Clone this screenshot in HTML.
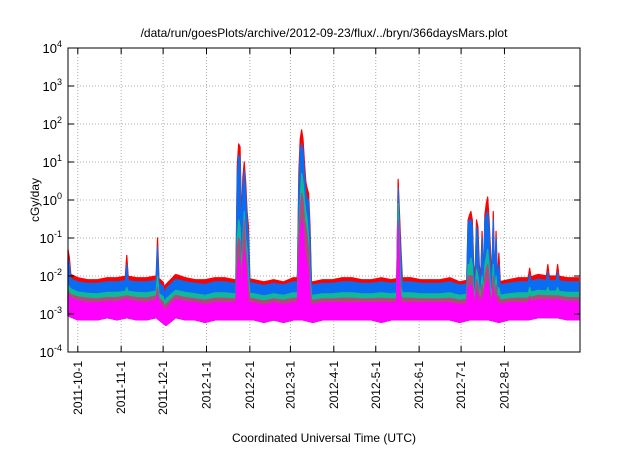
<!DOCTYPE html>
<html><head><meta charset="utf-8"><style>
body{margin:0;background:#fff;width:640px;height:448px;overflow:hidden}
svg{font-family:"Liberation Sans",Arial,sans-serif}
</style></head><body>
<svg id="chart" width="640" height="448">
<text x="324" y="37" font-size="12" text-anchor="middle">/data/run/goesPlots/archive/2012-09-23/flux/../bryn/366daysMars.plot</text>
<text transform="translate(39,200) rotate(-90)" font-size="12" text-anchor="middle">cGy/day</text>
<text x="324" y="442" font-size="12" text-anchor="middle">Coordinated Universal Time (UTC)</text>
<g id="grid"></g><g id="series"></g><g id="axes"></g>
</svg>
<script>
// Weekly baselines (cGy/day), starting 2011-09-24
const redBase=[.012,.009,.008,.008,.009,.009,.01,.009,.009,.01,.006,.011,.009,.008,.008,.009,.009,.008,.009,.008,.007,.008,.007,.009,.009,.007,.008,.008,.009,.009,.008,.008,.009,.008,.009,.009,.008,.008,.008,.009,.007,.008,.009,.008,.007,.008,.009,.009,.011,.01,.01,.009,.009];
const blueBase=[.009,.007,.0064,.0064,.007,.007,.0076,.007,.007,.0076,.0046,.0082,.007,.0064,.006,.007,.007,.0064,.007,.0064,.0056,.0064,.0058,.007,.007,.0058,.0064,.0064,.007,.007,.0064,.0064,.007,.0064,.007,.007,.0064,.0064,.0064,.007,.0058,.0064,.007,.0064,.0058,.0064,.007,.007,.0082,.0076,.0076,.007,.007];
const tealBase=[.005,.0038,.0035,.0034,.0037,.0037,.004,.0037,.0036,.004,.0025,.0042,.0037,.0034,.0031,.0036,.0036,.0034,.0036,.0034,.003,.0034,.0031,.0036,.0036,.0031,.0034,.0034,.0036,.0036,.0034,.0034,.0036,.0034,.0036,.0036,.0034,.0034,.0034,.0036,.0031,.0034,.0036,.0034,.0031,.0034,.0036,.0036,.0042,.004,.004,.0037,.0037];
const mauveBase=[.0035,.0028,.0026,.0025,.0027,.0027,.003,.0027,.0026,.003,.0018,.0031,.0027,.0025,.0023,.0026,.0026,.0025,.0026,.0025,.0022,.0025,.0023,.0026,.0026,.0023,.0025,.0025,.0026,.0026,.0025,.0025,.0026,.0025,.0026,.0026,.0025,.0025,.0025,.0026,.0023,.0025,.0026,.0025,.0023,.0025,.0026,.0026,.0031,.003,.003,.0027,.0027];
const magTopBase=[.0028,.0022,.002,.002,.0021,.0021,.0024,.0021,.002,.0023,.0014,.0024,.0021,.002,.0018,.002,.002,.002,.002,.002,.0017,.002,.0018,.002,.002,.0018,.002,.002,.002,.002,.002,.002,.002,.002,.002,.002,.002,.002,.002,.002,.0018,.002,.002,.002,.0018,.002,.002,.002,.0024,.0023,.0023,.0021,.0021];
const magLowBase=[.0009,.0007,.0007,.0007,.0008,.0007,.0008,.0007,.0007,.0008,.0005,.0008,.0007,.0007,.0006,.0007,.0007,.0007,.0007,.0007,.0006,.0007,.0006,.0007,.0007,.0006,.0007,.0007,.0007,.0007,.0007,.0007,.0006,.0007,.0007,.0007,.0007,.0007,.0007,.0007,.0006,.0007,.0007,.0007,.0006,.0007,.0007,.0007,.0008,.0008,.0008,.0007,.0007];
// Event days and values: red, blue, teal, mauve, magenta top
const spikeDays=[0,1,42,64,69,121,122,123,124,125,126,127,128,129,165,166,167,168,169,170,171,172,173,236,237,238,286,287,288,289,290,292,293,294,296,298,299,300,301,302,304,306,308,330,343,350];
const spikeRed=[.05,.03,.035,.1,.005,8,30,25,.3,4,10,3,.5,.2,5,40,70,40,10,3,2,1.5,.2,3.5,.4,.05,.3,.4,.5,.3,.02,.3,.2,.02,.15,.4,.8,1.2,.3,.05,.5,.15,.04,.016,.02,.02];
const spikeBlue=[.03,.02,.02,.06,.003,4,15,12,.1,2,6,1.5,.3,.1,2,20,30,20,5,1.5,1,1,.1,2,.2,.03,.25,.3,.3,.2,.01,.2,.1,.01,.1,.3,.4,.5,.2,.02,.3,.1,.02,.011,.013,.013];
const spikeTeal=[.006,.005,.005,.01,.002,.1,.3,.2,.01,.1,.5,.1,.05,.01,.2,1,5,3,1,.5,.3,.1,.01,.8,.05,.005,.02,.02,.03,.02,.004,.015,.01,.004,.01,.02,.03,.05,.02,.005,.02,.01,.005,.005,.005,.005];
const spikeMauve=[.004,.0035,.003,.005,.0015,.05,.1,.08,.005,.05,.3,.05,.02,.005,.1,.5,1.5,1,.3,.2,.1,.05,.005,.3,.02,.003,.01,.01,.01,.01,.003,.008,.006,.003,.006,.01,.015,.02,.01,.003,.01,.006,.003,.003,.003,.003];
const spikeMag=[.003,.003,.0025,.003,.001,.01,.03,.02,.002,.02,.05,.02,.006,.002,.02,.1,.3,.2,.05,.03,.02,.01,.002,.2,.005,.002,.005,.005,.006,.005,.002,.004,.003,.002,.003,.005,.006,.008,.005,.002,.005,.003,.002,.0025,.0025,.0025];
const xTickLabels=["2011-10-1","2011-11-1","2011-12-1","2012-1-1","2012-2-1","2012-3-1","2012-4-1","2012-5-1","2012-6-1","2012-7-1","2012-8-1"];
const xTickDays=[7,38,68,99,130,159,190,220,251,281,312];
const yTickExps=[-4,-3,-2,-1,0,1,2,3,4];

const L=68,R=580,T=48,B=352,NDAYS=366;
const NS='http://www.w3.org/2000/svg';
function xs(d){return L+d*(R-L)/NDAYS;}
function ys(v){return B-(Math.log10(v)+4)*(B-T)/8;}
function mk(tag,attrs,parent){const e=document.createElementNS(NS,tag);for(const k in attrs)e.setAttribute(k,attrs[k]);parent.appendChild(e);return e;}
const grid=document.getElementById('grid'),axes=document.getElementById('axes'),ser=document.getElementById('series');

yTickExps.forEach(p=>{
  const y=ys(Math.pow(10,p));
  if(p>-4&&p<4){const g=mk('line',{x1:L,x2:R,y1:y,y2:y,stroke:'#aaa','stroke-dasharray':'1,2','stroke-width':1},grid);
  
  }
  const t1=mk('line',{x1:L,x2:L+6,y1:y,y2:y,stroke:'#000'},axes);
  
  
  const t2=mk('line',{x1:R-6,x2:R,y1:y,y2:y,stroke:'#000'},axes);
  
  
  const tx=mk('text',{x:62,y:y+5,'font-size':13,'text-anchor':'end'},axes);
  
  
  tx.innerHTML='10<tspan dy="-6" font-size="9">'+p+'</tspan>';
});
xTickDays.forEach((d,i)=>{
  const x=xs(d);
  const g=mk('line',{x1:x,x2:x,y1:T,y2:B,stroke:'#aaa','stroke-dasharray':'1,2'},grid);
  
  
  const t1=mk('line',{x1:x,x2:x,y1:B-6,y2:B,stroke:'#000'},axes);
  
  
  const t2=mk('line',{x1:x,x2:x,y1:T,y2:T+6,stroke:'#000'},axes);
  
  
  const tx=mk('text',{transform:'translate('+(x+4)+',361) rotate(-90)','font-size':12,'text-anchor':'end'},axes);
  
  
  tx.textContent=xTickLabels[i];
});
const fr=mk('rect',{x:L,y:T,width:R-L,height:B-T,fill:'none',stroke:'#000','stroke-width':1},axes);



function base(arr,d){const w=d/7,i=Math.min(Math.floor(w),arr.length-2),f=w-i;return Math.exp(Math.log(arr[i])*(1-f)+Math.log(arr[i+1])*f);}
function val(baseArr,spArr,d){const k=spikeDays.indexOf(d);return k>=0?spArr[k]:base(baseArr,d);}
function area(baseArr,spArr,color,name){
  let top=[],bot=[];
  for(let d=0;d<NDAYS;d++){top.push(xs(d)+','+ys(val(baseArr,spArr,d)));bot.push(xs(d)+','+ys(base(magLowBase,d)));}
  const p=mk('polygon',{points:top.concat(bot.reverse()).join(' '),fill:color,stroke:color,'stroke-width':1.2,'stroke-linejoin':'round'},ser);
  
  
}
area(redBase,spikeRed,'#ff0000','series-red');
area(blueBase,spikeBlue,'#0a6cf0','series-blue');
area(tealBase,spikeTeal,'#10b89a','series-teal');
area(mauveBase,spikeMauve,'#b04a7a','series-mauve');
area(magTopBase,spikeMag,'#ff00ff','series-magenta');
</script>
</body></html>
